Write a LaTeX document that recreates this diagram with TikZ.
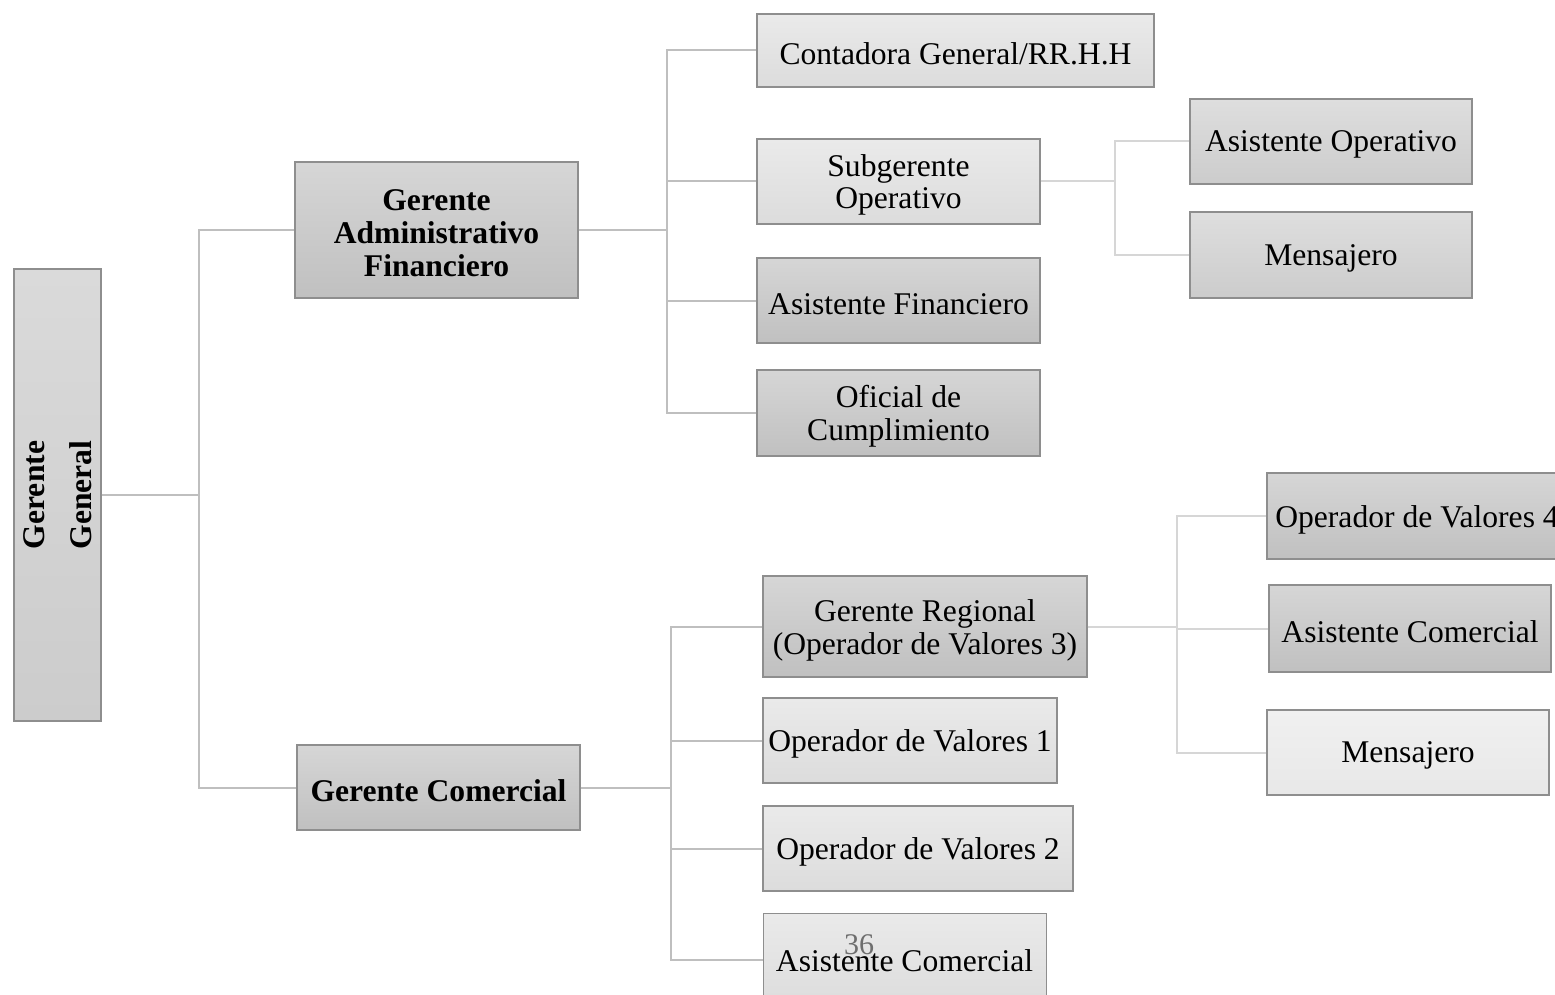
\documentclass[tikz,border=0pt]{standalone}
\usepackage{fontspec}
\setmainfont{Liberation Serif}
\definecolor{linec}{HTML}{BFBFBF}
\definecolor{linel}{HTML}{D6D6D6}
\definecolor{bordc}{HTML}{8E8E8E}
\tikzset{
  x=0.5pt, y=-0.5pt,
  orgbase/.style={rectangle, draw=bordc, line width=0.6pt, inner sep=0pt},
  orgtext/.style={inner sep=0pt, align=center, font=\fontsize{15.8}{16.5}\selectfont, yshift=-1.7pt},
  darkbox/.style={orgbase, top color={rgb,255:red,214;green,214;blue,214}, bottom color={rgb,255:red,192;green,192;blue,192}},
  midbox/.style={orgbase, top color={rgb,255:red,222;green,222;blue,222}, bottom color={rgb,255:red,204;green,204;blue,204}},
  lightbox/.style={orgbase, top color={rgb,255:red,234;green,234;blue,234}, bottom color={rgb,255:red,220;green,220;blue,220}},
  palebox/.style={orgbase, top color={rgb,255:red,240;green,240;blue,240}, bottom color={rgb,255:red,232;green,232;blue,232}},
  conn/.style={draw=linec, line width=1pt},
  connl/.style={draw=linel, line width=1pt},
}
\newcommand\orgbox[7]{%
  \node[#6, minimum width={(#4-#2)*0.5pt}, minimum height={(#5-#3)*0.5pt}]
    (#1) at ({(#2+#4)/2},{(#3+#5)/2}) {};
  \node[orgtext] (#1t) at (#1.center) {#7};}
\begin{document}
\begin{tikzpicture}
\useasboundingbox (0,0) rectangle (1555,995);
\clip (0,0) rectangle (1555,995);

% junction coordinates
\coordinate (j1) at (199,495);
\coordinate (j2) at (667,230);
\coordinate (j3) at (1115,181.5);
\coordinate (j4) at (671,787.5);
\coordinate (j5) at (1177,626.5);

% boxes
\node[orgbase, top color={rgb,255:red,218;green,218;blue,218}, bottom color={rgb,255:red,204;green,204;blue,204},
      minimum width=43.5pt, minimum height=226pt] (gg) at (57.5,495) {};
\node[rotate=90, align=center, font=\fontsize{15.8}{23.5}\selectfont\bfseries] (ggt) at (57.5,495) {Gerente\\General};

\orgbox{gaf}{295}{162}{578}{298}{darkbox}{\bfseries Gerente\\\bfseries Administrativo\\\bfseries Financiero}
\orgbox{gc}{297}{745}{580}{830}{darkbox}{\bfseries Gerente Comercial}

\orgbox{cont}{757}{14}{1154}{87}{lightbox}{Contadora General/RR.H.H}
\orgbox{sub}{757}{139}{1040}{224}{lightbox}{Subgerente\\Operativo}
\orgbox{asf}{757}{258}{1040}{343}{darkbox}{Asistente Financiero}
\orgbox{ofi}{757}{370}{1040}{456}{darkbox}{Oficial de\\Cumplimiento}

\orgbox{aso}{1190}{99}{1472}{184}{midbox}{Asistente Operativo}
\orgbox{men1}{1190}{212}{1472}{298}{midbox}{Mensajero}

\orgbox{gr}{763}{576}{1087}{677}{darkbox}{Gerente Regional\\(Operador de Valores 3)}
\orgbox{op1}{763}{698}{1057}{783}{lightbox}{Operador de Valores 1}
\orgbox{op2}{763}{806}{1073}{891}{lightbox}{Operador de Valores 2}
\node[lightbox, minimum width=141.5pt, minimum height=48pt, anchor=north west] (asc1) at (763,913) {};
\node[orgtext] (asc1t) at (904.5,957) {Asistente Comercial};

\orgbox{op4}{1267}{473}{1567}{559}{darkbox}{Operador de Valores 4}
\orgbox{asc2}{1269}{585}{1551}{672}{darkbox}{Asistente Comercial}
\orgbox{men2}{1267}{710}{1549}{795}{palebox}{Mensajero}

% connectors
\draw[conn] (gg.east) -- (j1);
\draw[conn] (j1) |- (gaf.west);
\draw[conn] (j1) |- (gc.west);

\draw[conn] (gaf.east) -- (j2);
\draw[conn] (j2) |- (cont.west);
\draw[conn] (j2) |- (sub.west);
\draw[conn] (j2) |- (asf.west);
\draw[conn] (j2) |- (ofi.west);

\draw[connl] (sub.east) -- (j3);
\draw[connl] (j3) |- (aso.west);
\draw[connl] (j3) |- (men1.west);

\draw[conn] (gc.east) -- (j4);
\draw[conn] (j4) |- (gr.west);
\draw[conn] (j4) |- (op1.west);
\draw[conn] (j4) |- (op2.west);
\draw[conn] (j4) |- (asc1.west |- asc1t.center);

\draw[connl] (gr.east) -- (j5);
\draw[connl] (j5) |- (op4.west);
\draw[connl] (j5) |- (asc2.west);
\draw[connl] (j5) |- (men2.west);

% page number
\node[text={rgb,255:red,110;green,110;blue,110}, font=\fontsize{15}{15}\selectfont] (pg) at (859,945) {36};
\end{tikzpicture}
\end{document}
